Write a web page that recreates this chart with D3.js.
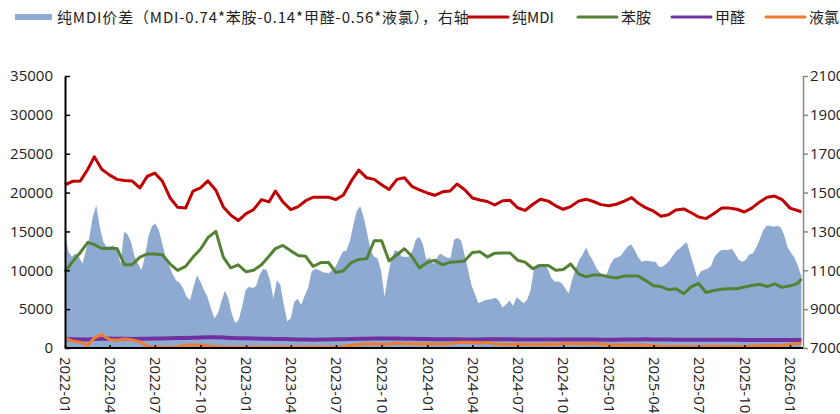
<!DOCTYPE html>
<html>
<head>
<meta charset="utf-8">
<script src="https://cdn.jsdelivr.net/npm/d3@7"></script>
<style>
  body { margin: 0; background: #fff; }
  svg { display: block; }
  text { font-family: "Noto Sans CJK SC", "Noto Sans", sans-serif; fill: #222; }
</style>
</head>
<body>
<svg id="chart" width="840" height="414"></svg>
<script>
// semi-monthly dates for the line series (last point = latest reading)
const lineDates = (
  "2022-01-01 2022-01-16 2022-02-01 2022-02-16 2022-03-01 2022-03-16 2022-04-01 2022-04-16 2022-05-01 2022-05-16 " +
  "2022-06-01 2022-06-16 2022-07-01 2022-07-16 2022-08-01 2022-08-16 2022-09-01 2022-09-16 2022-10-01 2022-10-16 " +
  "2022-11-01 2022-11-16 2022-12-01 2022-12-16 2023-01-01 2023-01-16 2023-02-01 2023-02-16 2023-03-01 2023-03-16 " +
  "2023-04-01 2023-04-16 2023-05-01 2023-05-16 2023-06-01 2023-06-16 2023-07-01 2023-07-16 2023-08-01 2023-08-16 " +
  "2023-09-01 2023-09-16 2023-10-01 2023-10-16 2023-11-01 2023-11-16 2023-12-01 2023-12-16 2024-01-01 2024-01-16 " +
  "2024-02-01 2024-02-16 2024-03-01 2024-03-16 2024-04-01 2024-04-16 2024-05-01 2024-05-16 2024-06-01 2024-06-16 " +
  "2024-07-01 2024-07-16 2024-08-01 2024-08-16 2024-09-01 2024-09-16 2024-10-01 2024-10-16 2024-11-01 2024-11-16 " +
  "2024-12-01 2024-12-16 2025-01-01 2025-01-16 2025-02-01 2025-02-16 2025-03-01 2025-03-16 2025-04-01 2025-04-16 " +
  "2025-05-01 2025-05-16 2025-06-01 2025-06-16 2025-07-01 2025-07-16 2025-08-01 2025-08-16 2025-09-01 2025-09-16 " +
  "2025-10-01 2025-10-16 2025-11-01 2025-11-16 2025-12-01 2025-12-16 2026-01-01 2026-01-16 2026-01-24"
).split(" ");

// 纯MDI (left axis)
const mdi = [
  21000, 21450, 21500, 23000, 24600, 23000, 22250, 21700, 21550, 21500,
  20600, 22100, 22500, 21500, 19300, 18100, 18000, 20200, 20600, 21500,
  20300, 18150, 17100, 16400, 17300, 17800, 19100, 18800, 20200, 18800,
  17800, 18200, 18950, 19400, 19400, 19400, 19100, 19700, 21500, 22900,
  21900, 21700, 21000, 20400, 21700, 21900, 20800, 20350, 19950, 19650,
  20100, 20200, 21100, 20400, 19300, 19050, 18850, 18400, 18950, 19000,
  18050, 17700, 18500, 19150, 18900, 18300, 17850, 18200, 18900, 19150,
  18850, 18450, 18300, 18500, 18900, 19350, 18650, 18050, 17600, 16950,
  17150, 17750, 17900, 17400, 16850, 16650, 17300, 18000, 18000, 17850,
  17500, 18000, 18800, 19400, 19550, 19100, 18000, 17700, 17500
];

// 苯胺 (left axis)
const aniline = [
  9800, 11100, 12300, 13600, 13300, 12800, 12800, 12800, 10700, 10700,
  11700, 12100, 12100, 12000, 10800, 10000, 10500, 11700, 12700, 14200,
  15000, 11700, 10300, 10700, 9800, 10000, 10700, 11800, 12800, 13200,
  12500, 11900, 11800, 10500, 11000, 11000, 9700, 9950, 11000, 11400,
  11500, 13800, 13800, 11200, 12000, 12770, 11800, 10300, 11000, 11300,
  10700, 11040, 11100, 11200, 12300, 12400, 11700, 12200, 12230, 12230,
  11300, 11050, 10200, 10620, 10620, 10000, 10100, 10800, 9550, 9150,
  9400, 9400, 9150, 9000, 9250, 9250, 9250, 8700, 8000, 7900,
  7500, 7620, 7000, 7900, 8300, 7150, 7400, 7550, 7620, 7620,
  7850, 8040, 8200, 7900, 8250, 7800, 8000, 8300, 8900
];

// 甲醛 (left axis)
const formaldehyde = [
  1120, 1130, 1100, 1080, 1150, 1200, 1220, 1200, 1180, 1170,
  1180, 1200, 1220, 1230, 1250, 1280, 1300, 1330, 1360, 1380,
  1370, 1340, 1300, 1260, 1240, 1220, 1200, 1180, 1160, 1150,
  1120, 1100, 1080, 1070, 1080, 1100, 1120, 1130, 1150, 1180,
  1200, 1210, 1220, 1230, 1220, 1200, 1180, 1160, 1150, 1130,
  1120, 1110, 1110, 1100, 1100, 1100, 1110, 1120, 1120, 1110,
  1100, 1090, 1090, 1080, 1080, 1080, 1090, 1100, 1100, 1090,
  1080, 1070, 1070, 1070, 1080, 1090, 1100, 1110, 1100, 1090,
  1080, 1070, 1060, 1060, 1050, 1050, 1060, 1060, 1050, 1050,
  1040, 1040, 1040, 1030, 1030, 1030, 1020, 1020, 1020
];

// 液氯 (left axis)
const chlorine = [
  1250, 900, 750, 350, 1300, 1700, 1100, 1000, 1150, 1050,
  800, 200, 120, 100, 100, 150, 350, 400, 380, 300,
  150, 120, 100, 100, 120, 130, 110, 100, 120, 130,
  110, 120, 120, 130, 120, 110, 120, 200, 350, 450,
  500, 550, 450, 500, 600, 550, 500, 550, 500, 520,
  500, 550, 700, 750, 700, 650, 700, 550, 450, 450,
  480, 450, 430, 450, 480, 450, 550, 550, 520, 560,
  540, 520, 400, 400, 380, 400, 380, 350, 300, 200,
  200, 180, 200, 200, 180, 200, 220, 200, 200, 180,
  200, 250, 300, 300, 300, 350, 450, 550, 650
];

// 纯MDI价差, weekly from 2022-01-01 (right axis)
const spreadStart = "2022-01-01";
const spread = [
  12900, 11950, 11700, 11870, 11700, 11350, 12000, 12690, 13750, 14350,
  13240, 12470, 12210, 12240, 12280, 12040, 11350, 12980, 12860, 12470,
  11730, 11350, 11010, 11700, 12720, 13270, 13410, 13070, 12380, 11660,
  11230, 10800, 10480, 10360, 10070, 9640, 9470, 10150, 10750, 10410,
  9980, 9640, 9040, 8530, 8780, 9380, 9950, 9560, 8780, 8270,
  8440, 9130, 9980, 10150, 10070, 10190, 10750, 11060, 11030, 10500,
  9540, 10500, 10240, 9210, 8360, 8530, 9380, 9520, 9210, 9690,
  10100, 10930, 11080, 11010, 10930, 10870, 10860, 11010, 11220, 11610,
  11970, 12000, 12500, 13320, 14060, 14300, 13720, 12900, 12000, 11700,
  11610, 10980, 9640, 10750, 11610, 12040, 11950, 11700, 11700, 11700,
  12000, 12590, 12720, 12350, 11560, 11660, 11320, 11630, 11870, 11750,
  11650, 11650, 12570, 12660, 12550, 11830, 11050, 10240, 9780, 9300,
  9380, 9470, 9500, 9540, 9590, 9400, 9090, 9250, 9440, 9160,
  9610, 9470, 9300, 9470, 9950, 11060, 11340, 11290, 11340, 11060,
  10620, 10410, 10430, 10330, 10070, 9810, 10530, 11080, 11530, 11800,
  12180, 11780, 11490, 11110, 10870, 10670, 10840, 11300, 11590, 11660,
  11750, 11990, 12230, 12330, 12040, 11680, 11440, 11490, 11490, 11440,
  11440, 11180, 11180, 11320, 11490, 11760, 12000, 12140, 12300, 12450,
  11820, 11250, 10630, 10940, 11030, 11080, 11230, 11700, 11920, 12040,
  12040, 12040, 12110, 11820, 11530, 11440, 11540, 11820, 11870, 12190,
  12590, 13070, 13290, 13290, 13240, 13290, 13220, 12830, 12180, 11900,
  11650, 11220, 10690
];

const xTickLabels = ["2022-01", "2022-04", "2022-07", "2022-10", "2023-01", "2023-04", "2023-07",
  "2023-10", "2024-01", "2024-04", "2024-07", "2024-10", "2025-01", "2025-04", "2025-07",
  "2025-10", "2026-01"];
const leftTicks = [0, 5000, 10000, 15000, 20000, 25000, 30000, 35000];
const rightTicks = [7000, 9000, 11000, 13000, 15000, 17000, 19000, 21000];

const legendItems = [
  { name: "纯MDI价差（MDI-0.74*苯胺-0.14*甲醛-0.56*液氯），右轴", color: "#8FAAD0", type: "area", x: 15, spacing: "0.85px" },
  { name: "纯MDI", color: "#C00000", type: "line", x: 469 },
  { name: "苯胺", color: "#548235", type: "line", x: 578 },
  { name: "甲醛", color: "#7030A0", type: "line", x: 672 },
  { name: "液氯", color: "#ED7D31", type: "line", x: 766 }
];

const parseDay = d3.timeParse("%Y-%m-%d");
const parseMonth = d3.timeParse("%Y-%m");

const svg = d3.select("#chart");
const plot = { left: 65, right: 803, top: 76, bottom: 348 };
const numFont = "'Open Sans', sans-serif";

const x = d3.scaleTime()
  .domain([parseDay("2022-01-01"), parseDay("2026-01-01")])
  .range([plot.left, 790]);
const yL = d3.scaleLinear().domain([0, 35000]).range([plot.bottom, plot.top]);
const yR = d3.scaleLinear().domain([7000, 21000]).range([plot.bottom, plot.top]);

// spread area
const spreadData = spread.map((v, i) => ({ date: d3.timeDay.offset(parseDay(spreadStart), i * 7), v }));
svg.append("path")
  .datum(spreadData)
  .attr("fill", "#8FAAD0")
  .attr("d", d3.area()
    .x(d => x(d.date))
    .y0(yR(7000))
    .y1(d => yR(d.v)));

// lines
const lineSeries = [
  { values: mdi, color: "#C00000", width: 3 },
  { values: aniline, color: "#548235", width: 3 },
  { values: formaldehyde, color: "#7030A0", width: 4 },
  { values: chlorine, color: "#ED7D31", width: 3 }
];
const line = d3.line().x(d => x(d.date)).y(d => yL(d.v));
lineSeries.forEach(s => {
  svg.append("path")
    .datum(s.values.map((v, i) => ({ date: parseDay(lineDates[i]), v })))
    .attr("fill", "none")
    .attr("stroke", s.color)
    .attr("stroke-width", s.width)
    .attr("stroke-linejoin", "round")
    .attr("d", line);
});

// left axis
const gL = svg.append("g")
  .attr("transform", `translate(${plot.left},0)`)
  .call(d3.axisLeft(yL).tickValues(leftTicks).tickFormat(d3.format("d"))
    .tickSizeInner(-5).tickSizeOuter(0).tickPadding(12));
gL.select(".domain").attr("stroke", "#000").attr("stroke-width", 2);
gL.selectAll(".tick line").attr("stroke", "#000").attr("stroke-width", 1.5);
gL.selectAll("text").style("font-size", "15px").style("font-family", numFont).attr("fill", "#222");

// right axis
const gR = svg.append("g")
  .attr("transform", `translate(${plot.right},0)`)
  .call(d3.axisRight(yR).tickValues(rightTicks).tickFormat(d3.format("d"))
    .tickSizeInner(5).tickSizeOuter(0).tickPadding(2));
gR.select(".domain").attr("stroke", "#888").attr("stroke-width", 1.5);
gR.selectAll(".tick line").attr("stroke", "#888").attr("stroke-width", 1.5);
gR.selectAll("text").style("font-size", "15px").style("font-family", numFont).attr("fill", "#222");

// bottom axis
const gB = svg.append("g")
  .attr("transform", `translate(0,${plot.bottom})`)
  .call(d3.axisBottom(x)
    .tickValues(xTickLabels.map(parseMonth))
    .tickFormat(d3.timeFormat("%Y-%m"))
    .tickSizeInner(-3).tickSizeOuter(0));
gB.select(".domain").attr("d", `M${plot.left},0H${plot.right}`).attr("stroke", "#000").attr("stroke-width", 2);
gB.selectAll(".tick line").attr("stroke", "#000").attr("stroke-width", 1.5);
gB.selectAll("text")
  .attr("transform", "rotate(90)")
  .attr("x", 9).attr("y", 0).attr("dy", "0.35em")
  .style("text-anchor", "start")
  .style("font-size", "15px")
  .style("font-family", numFont)
  .attr("fill", "#222");

// legend
const lg = svg.append("g").attr("class", "legend");
legendItems.forEach(it => {
  if (it.type === "area") {
    lg.append("rect").attr("x", it.x).attr("y", 14).attr("width", 37).attr("height", 6).attr("fill", it.color);
  } else {
    lg.append("line").attr("x1", it.x).attr("x2", it.x + 39).attr("y1", 17).attr("y2", 17)
      .attr("stroke", it.color).attr("stroke-width", 3).attr("stroke-linecap", "round");
  }
  lg.append("text").attr("x", it.x + (it.type === "area" ? 42 : 43)).attr("y", 23)
    .style("font-size", "15px")
    .style("letter-spacing", it.spacing || null)
    .text(it.name);
});
</script>
</body>
</html>
